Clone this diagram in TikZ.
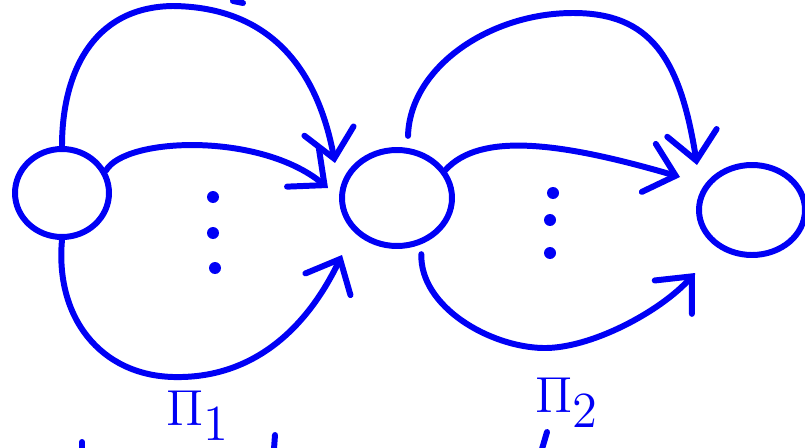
\documentclass[tikz,border=0pt]{standalone}
\usepackage{amsmath}
\usetikzlibrary{calc,arrows.meta,shapes.geometric}
\definecolor{penblue}{RGB}{0,0,245}
\tikzset{
  pen/.style   = {draw=penblue, line width=1.7pt, line cap=round, line join=round},
  arr/.style   = {pen, -{Straight Barb[length=2.8mm, width=5mm, line cap=round]}},
  circ/.style  = {ellipse, draw=penblue, line width=1.7pt, inner sep=0pt},
  pdot/.style  = {circle, fill=penblue, inner sep=0pt, minimum size=1.2mm},
  lbl/.style   = {text=penblue, font=\fontsize{15}{17}\selectfont, inner sep=0pt},
}

\begin{document}
\begin{tikzpicture}
  \useasboundingbox (0,0) rectangle (8.05,4.47);
  % the three states
  \node[circ, minimum width=9.4mm, minimum height=8.8mm] (l) at (0.62,2.54) {};
  \node[circ, minimum width=11mm, minimum height=9.6mm] (m) at (3.97,2.49) {};
  \node[circ, minimum width=10.6mm, minimum height=9mm] (r) at (7.52,2.37) {};
  % arrow tips near the targets
  \coordinate (t1) at ($(m)+(-0.62,0.35)$);
  \coordinate (t2) at ($(m)+(-0.69,0.10)$);
  \coordinate (t3) at ($(m)+(-0.55,-0.57)$);
  \coordinate (t4) at ($(r)+(-0.55,0.45)$);
  \coordinate (t5) at ($(r)+(-0.72,0.33)$);
  \coordinate (t6) at ($(r)+(-0.57,-0.63)$);
  % first bundle
  \draw[arr] (l.north)..controls(0.62,3.7)and(0.9,4.4)..(1.73,4.41)
    ..controls(2.6,4.40)and(3.15,3.9)..(t1);
  \draw[arr] (l.27)..controls(1.25,3.1)and(2.6,3.15)..(t2);
  \draw[arr] (l.south)..controls(0.55,1.3)and(1.0,0.72)..(1.73,0.70)
    ..controls(2.5,0.68)and(3.05,1.15)..(t3);
  \node[pdot] (d1) at (2.13,2.50) {};
  \node[pdot] (d2) at (2.13,2.14) {};
  \node[pdot] (d3) at (2.15,1.79) {};
  % second bundle
  \draw[arr, shorten <=1.2mm] (m.78)..controls(4.1,3.8)and(4.9,4.34)..(5.73,4.34)
    ..controls(6.5,4.34)and(6.8,3.9)..(t4);
  \draw[arr] (m.30)..controls(4.8,3.15)and(5.6,3.05)..(t5);
  \draw[arr, shorten <=1mm] (m.-62)..controls(4.2,1.4)and(4.9,1.0)..(5.43,0.99)
    ..controls(5.9,0.98)and(6.6,1.35)..(t6);
  \node[pdot] (d4) at (5.53,2.54) {};
  \node[pdot] (d5) at (5.50,2.27) {};
  \node[pdot] (d6) at (5.50,1.94) {};
  % labels
  \node[lbl, anchor=base west] (p1) at (1.66,0.22) {$\Pi_{\textstyle 1}$};
  \node[lbl, anchor=base west] (p2) at (5.35,0.35) {$\Pi_{\textstyle 2}$};
  % cut-off strokes at the edges
  \draw[pen] (2.33,4.46)--(2.43,4.44);
  \draw[pen] (0.82,0.05)--(0.82,-0.02);
  \draw[pen] (2.75,0.12)--(2.74,-0.02);
  \draw[pen] (5.47,0.15)--(5.42,-0.02);
\end{tikzpicture}
\end{document}
